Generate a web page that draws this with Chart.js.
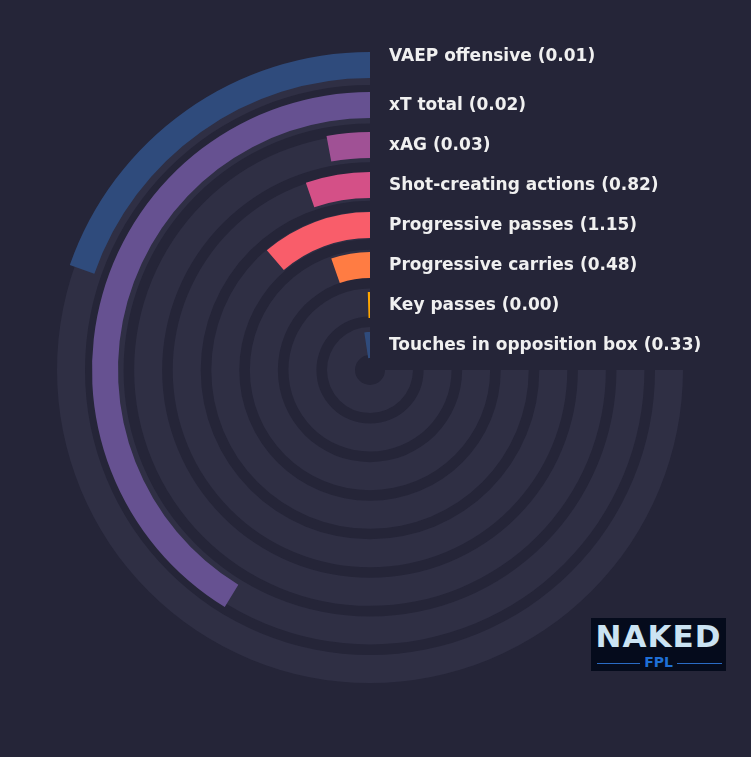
<!DOCTYPE html>
<html>
<head>
<meta charset="utf-8">
<script src="https://cdn.jsdelivr.net/npm/chart.js@4.4.0/dist/chart.umd.min.js"></script>
<style>
  html, body { margin: 0; padding: 0; background: #252538; }
  #wrap { position: relative; width: 751px; height: 757px; overflow: hidden; background: #252538; }
  #wrap canvas { position: absolute; left: 0; top: 0; }
  #logo { position: absolute; left: 591px; top: 618px; width: 135px; height: 53px; background: #050b1c; font-family: "DejaVu Sans", sans-serif; overflow: hidden; }
  #logo .naked { position: absolute; left: 0; top: 1px; width: 135px; text-align: center; font-weight: bold; font-size: 31px; line-height: 34px; color: #cbe3f3; letter-spacing: 1px; }
  #logo .fpl { position: absolute; left: 0; top: 37px; width: 135px; height: 14px; text-align: center; font-weight: bold; font-size: 14px; line-height: 14px; color: #1f6fd6; }
  #logo .ln { position: absolute; top: 8px; height: 1px; background: #2a6bc4; }
</style>
</head>
<body>
<div id="wrap">
  <canvas id="bgChart" width="751" height="757"></canvas>
  <canvas id="barChart" width="751" height="757"></canvas>
  <div id="logo">
    <div class="naked">NAKED</div>
    <div class="fpl"><span class="ln" style="left:6px;width:43px"></span>FPL<span class="ln" style="left:86px;width:45px"></span></div>
  </div>
</div>
<script>
// rings listed from outermost to innermost
var metrics = ['VAEP offensive', 'xT total', 'xAG', 'Shot-creating actions', 'Progressive passes', 'Progressive carries', 'Key passes', 'Touches in opposition box'];
var perNinety = [0.01, 0.02, 0.03, 0.82, 1.15, 0.48, 0.00, 0.33];
// bar length as share of the 270 degree track
var percentile = [26.2, 55.0, 3.9, 7.0, 15.1, 7.1, 0.6, 3.2];
var colours = ['#2f4b7c', '#665191', '#a05195', '#d45087', '#f95d6a', '#ff7c43', '#ffa600', '#2f4b7c'];

var trackColour = '#2f2f44';

// draws the metric names next to the rings
var ringLabels = {
    id: 'ringLabels',
    afterDatasetsDraw: function (chart) {
        var ctx = chart.ctx;
        ctx.save();
        ctx.font = 'bold 17px "DejaVu Sans"';
        ctx.fillStyle = '#f0f0f0';
        ctx.textAlign = 'left';
        ctx.textBaseline = 'middle';
        chart.data.datasets.forEach(function (ds, i) {
            if (ds.spacer) return;
            var arc = chart.getDatasetMeta(i).data[1];
            var mid = (arc.innerRadius + arc.outerRadius) / 2;
            var y = arc.y - mid + 1;
            if (ds.ring === 0) y -= 9;
            ctx.fillText(ds.label, arc.x + 19, y);
        });
        ctx.restore();
    }
};

var barSets = [];
var trackSets = [];
metrics.forEach(function (name, i) {
    if (i > 0) {
        barSets.push({ data: [1], backgroundColor: ['rgba(0,0,0,0)'], weight: 14, spacer: true, borderWidth: 0 });
        trackSets.push({ data: [1], backgroundColor: ['rgba(0,0,0,0)'], weight: 10.57, borderWidth: 0 });
    }
    barSets.push({
        label: name + ' (' + perNinety[i].toFixed(2) + ')',
        ring: i,
        data: [100 - percentile[i], percentile[i]],
        backgroundColor: ['rgba(0,0,0,0)', colours[i]],
        weight: 26,
        borderWidth: 0
    });
    trackSets.push({ data: [100], backgroundColor: [trackColour], weight: 28, borderWidth: 0 });
});

var common = {
    responsive: false,
    animation: false,
    events: [],
    rotation: 90,
    circumference: 270,
    plugins: { legend: { display: false }, tooltip: { enabled: false } },
    elements: { arc: { borderWidth: 0, hoverOffset: 0, offset: 0 } }
};

new Chart(document.getElementById('bgChart'), {
    type: 'doughnut',
    data: { labels: ['track'], datasets: trackSets },
    options: Object.assign({}, common, {
        cutout: 15,
        layout: { padding: { left: 57, top: 57, right: 68, bottom: 74 } }
    })
});

new Chart(document.getElementById('barChart'), {
    type: 'doughnut',
    data: { labels: ['rest', 'value'], datasets: barSets },
    options: Object.assign({}, common, {
        cutout: 12,
        layout: { padding: { left: 52, top: 52, right: 63, bottom: 69 } }
    }),
    plugins: [ringLabels]
});
</script>
</body>
</html>
